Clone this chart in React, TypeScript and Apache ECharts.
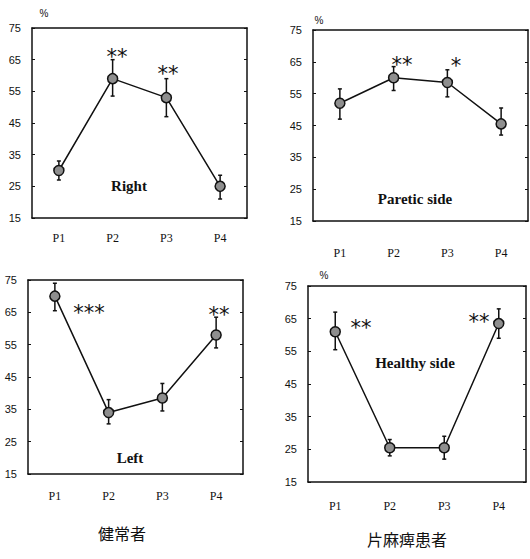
import React, { useEffect, useRef } from "react";
import * as echarts from "echarts";

const categories = ["P1", "P2", "P3", "P4"];
const yMin = 15;
const yMax = 75;
const yStep = 10;

const rightMean = [30, 59, 53, 25];
const rightLow = [27, 53.5, 47, 21];
const rightHigh = [33, 65, 59, 28.5];

const pareticMean = [52, 60, 58.5, 45.5];
const pareticLow = [47, 56, 54, 42];
const pareticHigh = [56.5, 63.5, 62.5, 50.5];

const leftMean = [70, 34, 38.5, 58];
const leftLow = [65.5, 30.5, 34.5, 54];
const leftHigh = [74, 38, 43, 63.5];

const healthyMean = [61, 25.5, 25.5, 63.5];
const healthyLow = [55.5, 23, 22, 59];
const healthyHigh = [67, 28, 29, 68];

const panelTitles = ["Right", "Paretic side", "Left", "Healthy side"];
const groupTitles = ["健常者", "片麻痺患者"];

const panels = [
  { mean: rightMean, low: rightLow, high: rightHigh },
  { mean: pareticMean, low: pareticLow, high: pareticHigh },
  { mean: leftMean, low: leftLow, high: leftHigh },
  { mean: healthyMean, low: healthyLow, high: healthyHigh },
];

const grids = [
  { left: 32, top: 28, width: 215, height: 190, labelMargin: 14 },
  { left: 313, top: 30, width: 215, height: 191, labelMargin: 26 },
  { left: 28, top: 280, width: 215, height: 194, labelMargin: 16 },
  { left: 308, top: 286, width: 218, height: 196, labelMargin: 18 },
];

const INK = "#111";
const SERIF = "Liberation Serif, serif";
const NUMF = "Liberation Sans Narrow, Liberation Sans, sans-serif";

export default function App() {
  const ref = useRef<HTMLDivElement>(null);
  useEffect(() => {
    if (!ref.current) return;
    const chart = echarts.init(ref.current, null, { renderer: "svg" });

    const xAxis: any[] = [];
    const yAxis: any[] = [];
    const series: any[] = [];

    grids.forEach((g, i) => {
      xAxis.push({
        type: "category",
        gridIndex: i,
        data: categories,
        position: "bottom",
        axisLine: { lineStyle: { color: INK, width: 1.5 } },
        axisTick: { inside: true, length: 3, alignWithLabel: true, lineStyle: { color: INK } },
        axisLabel: { color: INK, fontFamily: SERIF, fontSize: 12, margin: g.labelMargin },
      });
      xAxis.push({
        type: "category",
        gridIndex: i,
        data: categories,
        position: "top",
        axisLine: { lineStyle: { color: INK, width: 1.5 } },
        axisTick: { inside: true, length: 3, alignWithLabel: true, lineStyle: { color: INK } },
        axisLabel: { show: false },
      });
      yAxis.push({
        type: "value",
        gridIndex: i,
        min: yMin,
        max: yMax,
        interval: yStep,
        position: "left",
        splitLine: { show: false },
        axisLine: { show: true, lineStyle: { color: INK, width: 1.5 } },
        axisTick: { show: true, inside: true, length: 3, lineStyle: { color: INK } },
        axisLabel: { color: INK, fontFamily: NUMF, fontSize: 11, margin: 11 },
      });
      yAxis.push({
        type: "value",
        gridIndex: i,
        min: yMin,
        max: yMax,
        interval: yStep,
        position: "right",
        splitLine: { show: false },
        axisLine: { show: true, lineStyle: { color: INK, width: 1.5 } },
        axisTick: { show: true, inside: true, length: 3, lineStyle: { color: INK } },
        axisLabel: { show: false },
      });

      const p = panels[i];
      series.push({
        type: "custom",
        xAxisIndex: i * 2,
        yAxisIndex: i * 2,
        z: 1,
        data: p.low.map((lo, k) => [k, lo, p.high[k]]),
        renderItem: (params: any, api: any) => {
          const lo = api.coord([api.value(0), api.value(1)]);
          const hi = api.coord([api.value(0), api.value(2)]);
          const cap = 2;
          const st = { stroke: INK, lineWidth: 1.5 };
          return {
            type: "group",
            children: [
              { type: "line", shape: { x1: lo[0], y1: lo[1], x2: hi[0], y2: hi[1] }, style: st },
              { type: "line", shape: { x1: lo[0] - cap, y1: lo[1], x2: lo[0] + cap, y2: lo[1] }, style: st },
              { type: "line", shape: { x1: hi[0] - cap, y1: hi[1], x2: hi[0] + cap, y2: hi[1] }, style: st },
            ],
          };
        },
      });
      series.push({
        type: "line",
        xAxisIndex: i * 2,
        yAxisIndex: i * 2,
        z: 2,
        data: p.mean,
        symbol: "circle",
        symbolSize: 10,
        itemStyle: { color: "#8e8e8e", borderColor: INK, borderWidth: 1.5 },
        lineStyle: { color: INK, width: 1.5 },
      });
    });

    const txt = (x: number, y: number, text: string, size: number, font = SERIF, weight: any = "normal") => ({
      type: "text",
      x,
      y,
      style: {
        text,
        fill: INK,
        font: `${weight} ${size}px ${font}`,
        textAlign: "center",
        textVerticalAlign: "middle",
      },
    });
    const STAR = "DejaVu Sans, sans-serif";

    const graphic: any[] = [
      txt(44, 13, "%", 10, NUMF),
      txt(319, 20, "%", 10, NUMF),
      txt(324, 275, "%", 10, NUMF),
      txt(129, 186, panelTitles[0], 15, SERIF, 600),
      txt(415, 199, panelTitles[1], 15, SERIF, 600),
      txt(130, 458, panelTitles[2], 15, SERIF, 600),
      txt(415, 363, panelTitles[3], 15, SERIF, 600),
      txt(117, 57, "**", 21, STAR),
      txt(168, 74, "**", 21, STAR),
      txt(402, 65, "**", 21, STAR),
      txt(456, 66, "*", 21, STAR),
      txt(89, 313, "***", 21, STAR),
      txt(219, 315, "**", 21, STAR),
      txt(361, 328, "**", 21, STAR),
      txt(479, 322, "**", 21, STAR),
      txt(122, 533, groupTitles[0], 16, "Noto Sans CJK JP, sans-serif"),
      txt(407, 539, groupTitles[1], 16, "Noto Sans CJK JP, sans-serif"),
    ];

    chart.setOption({
      animation: false,
      backgroundColor: "#fff",
      grid: grids.map((g) => ({ left: g.left, top: g.top, width: g.width, height: g.height })),
      xAxis,
      yAxis,
      series,
      graphic,
    });
    return () => chart.dispose();
  }, []);

  return (
    <div
      ref={ref}
      style={{ position: "absolute", left: 0, top: 0, width: 530, height: 559, background: "#fff" }}
    />
  );
}
